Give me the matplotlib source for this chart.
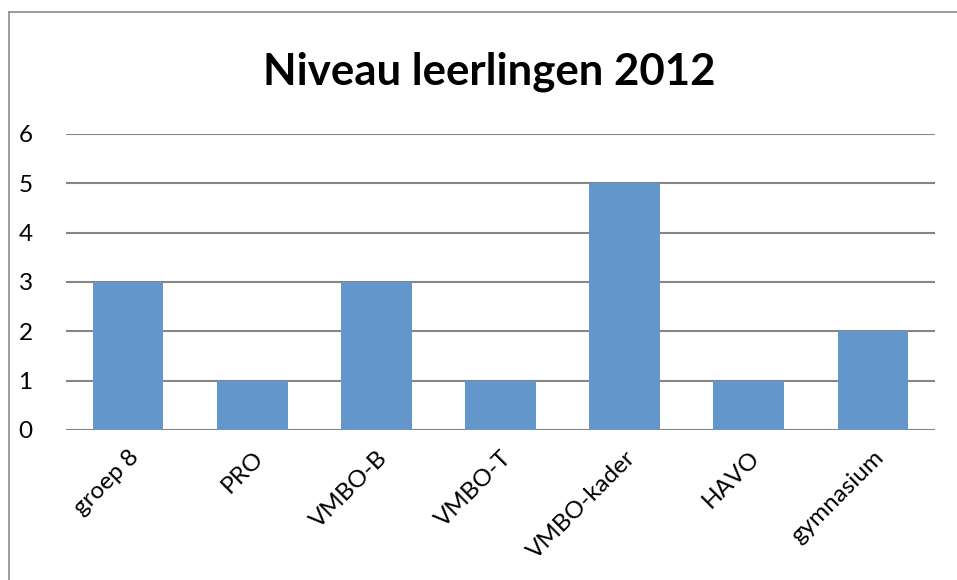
import matplotlib
matplotlib.use('Agg')
import matplotlib.pyplot as plt
from matplotlib.lines import Line2D

plt.rcParams['font.family'] = ['Lato', 'DejaVu Sans']

# data
categories = ['groep 8', 'PRO', 'VMBO-B', 'VMBO-T', 'VMBO-kader', 'HAVO', 'gymnasium']
counts = [3, 1, 3, 1, 5, 1, 2]
yticks = [0, 1, 2, 3, 4, 5, 6]

bar_color = '#6397CB'
grid_color = '#868686'

fig = plt.figure(figsize=(9.57, 5.8), dpi=100)
ax = fig.add_axes([66 / 957, 1 - 430 / 580, (935 - 66) / 957, (430 - 134) / 580])

x = range(len(categories))
ax.bar(x, counts, width=0.57, color=bar_color, zorder=3)

ax.set_xlim(-0.5, len(categories) - 0.5)
ax.set_ylim(0, 6)
ax.set_yticks(yticks)
ax.set_yticklabels([str(v) for v in yticks], fontsize=17.5)
ax.set_xticks(list(x))
ax.set_xticklabels(categories, fontsize=17.5, rotation=45, ha='right', rotation_mode='anchor')
ax.tick_params(axis='x', length=0, pad=12)
ax.tick_params(axis='y', length=0, pad=24)

ax.yaxis.grid(True, color=grid_color, linewidth=1.5, zorder=0)
for s in ax.spines.values():
    s.set_visible(False)

fig.text(489 / 957, 1 - 72 / 580, 'Niveau leerlingen 2012', fontsize=31.5,
         fontweight='bold', ha='center', va='center')

# chart frame (top and left edges visible)
fig.add_artist(Line2D([9 / 957, 1], [1 - 12 / 580, 1 - 12 / 580], color='#8c8c8c', linewidth=1.2))
fig.add_artist(Line2D([9 / 957, 9 / 957], [0, 1 - 12 / 580], color='#8c8c8c', linewidth=1.2))

fig.savefig('out.png', dpi=100)
